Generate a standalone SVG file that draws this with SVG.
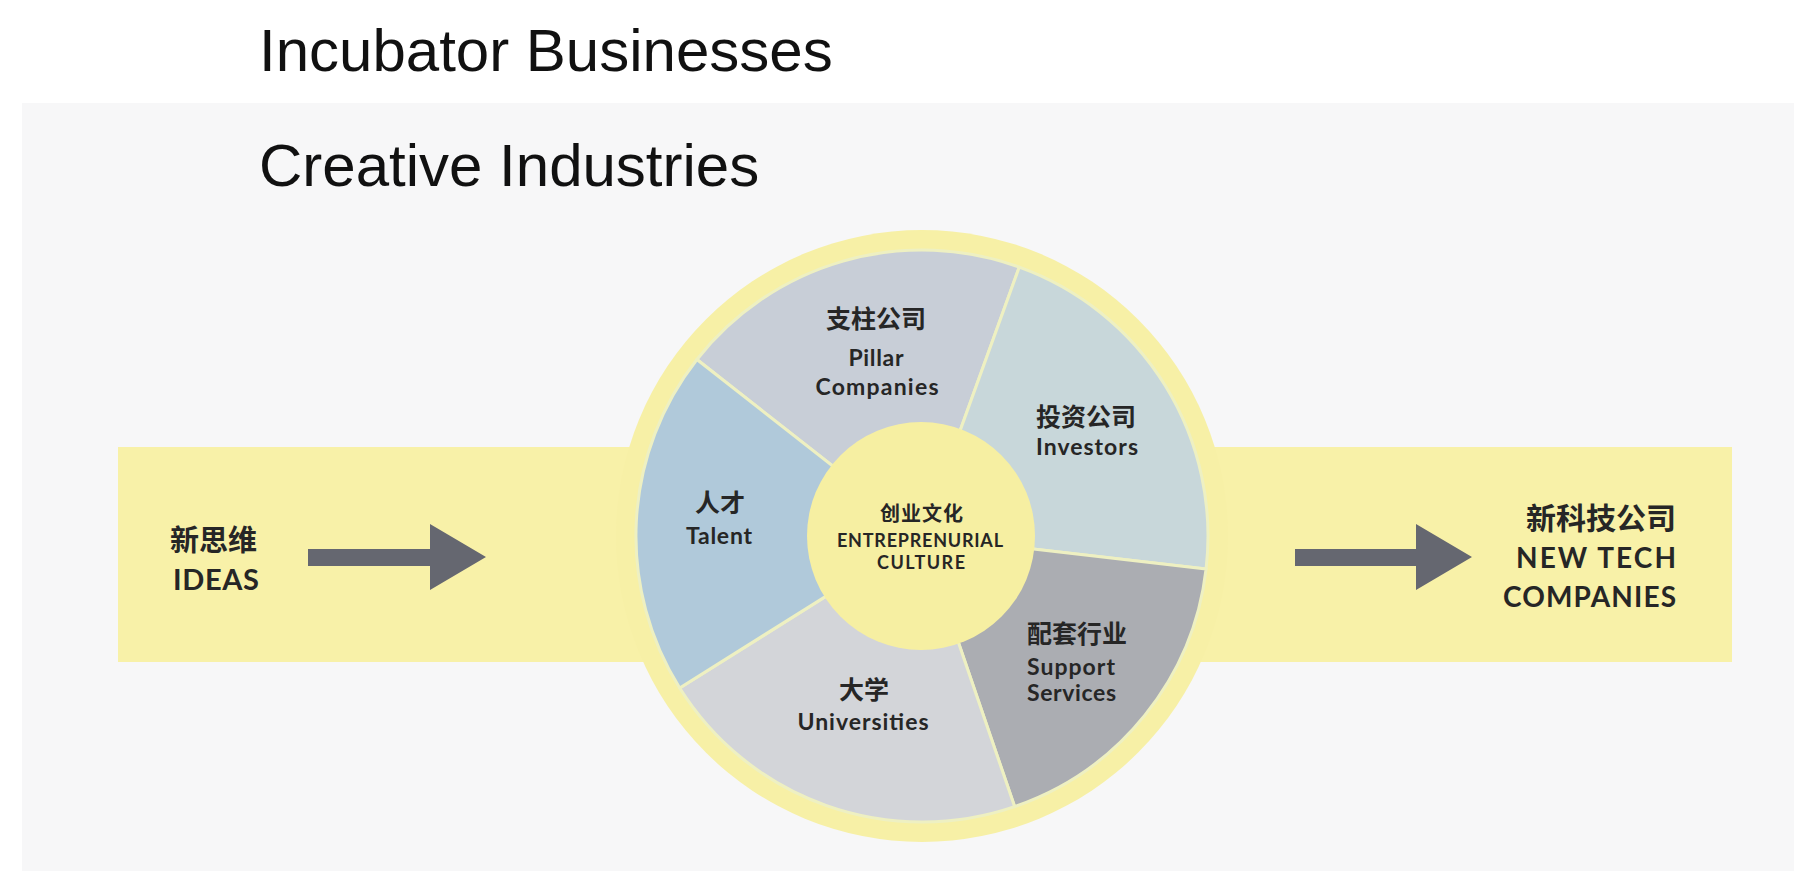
<svg xmlns="http://www.w3.org/2000/svg" width="1794" height="871" viewBox="0 0 1794 871">
  <defs>
    <style>
      .title { font-family: "Liberation Sans", Arial, sans-serif; font-size: 60px; fill: #111; }
      .cjk { font-family: "Noto Sans CJK SC", sans-serif; font-weight: 700; fill: #262626; }
      .lat { font-family: Lato, "Open Sans", sans-serif; font-weight: 700; fill: #262626; }
      .mid { text-anchor: middle; }
      .end { text-anchor: end; }
      .seg { stroke: #eef0c2; stroke-width: 3; stroke-linejoin: round; }
      .arrow { fill: #656770; }
    </style>
  </defs>

  <!-- page -->
  <rect x="0" y="0" width="1794" height="871" fill="#ffffff"/>
  <rect x="22" y="103" width="1772" height="768" fill="#f7f7f8"/>

  <text class="title" x="259" y="71">Incubator Businesses</text>
  <text class="title" x="259" y="186">Creative Industries</text>

  <!-- flow band -->
  <rect id="band" x="118" y="447" width="1614" height="215" fill="#f8f1a8"/>

  <!-- wheel -->
  <g id="wheel">
    <circle cx="922" cy="536" r="306" fill="#f7f0a6"/>
    <g id="pillar">
      <path class="seg" fill="#c8ced7" d="M922,536 L696.9,359.5 A286,286 0 0 1 1019.3,267.1 Z"/>
      <text class="cjk mid" x="876" y="327.5" font-size="25">支柱公司</text>
      <text class="lat mid" x="876" y="366" font-size="23" textLength="55">Pillar</text>
      <text class="lat mid" x="877" y="395" font-size="23" textLength="123">Companies</text>
    </g>
    <g id="investors">
      <path class="seg" fill="#c8d7da" d="M922,536 L1019.3,267.1 A286,286 0 0 1 1206.1,568.9 Z"/>
      <text class="cjk mid" x="1086" y="425.5" font-size="25">投资公司</text>
      <text class="lat mid" x="1087" y="455" font-size="23" textLength="102">Investors</text>
    </g>
    <g id="support">
      <path class="seg" fill="#abadb2" d="M922,536 L1206.1,568.9 A286,286 0 0 1 1014.6,806.6 Z"/>
      <text class="cjk" x="1027" y="642.5" font-size="25">配套行业</text>
      <text class="lat" x="1027" y="675" font-size="23" textLength="88">Support</text>
      <text class="lat" x="1027" y="701" font-size="23" textLength="89">Services</text>
    </g>
    <g id="universities">
      <path class="seg" fill="#d3d5d9" d="M922,536 L1014.6,806.6 A286,286 0 0 1 679.7,688 Z"/>
      <text class="cjk mid" x="864" y="699" font-size="25">大学</text>
      <text class="lat mid" x="863" y="730" font-size="23" textLength="131">Universities</text>
    </g>
    <g id="talent">
      <path class="seg" fill="#b0c9da" d="M922,536 L679.7,688 A286,286 0 0 1 696.9,359.5 Z"/>
      <text class="cjk mid" x="720" y="512" font-size="25">人才</text>
      <text class="lat mid" x="719" y="544" font-size="23" textLength="66">Talent</text>
    </g>
    <g id="culture">
      <circle cx="921" cy="536" r="114" fill="#f6efa2"/>
      <text class="cjk mid" x="922" y="521" font-size="20" letter-spacing="1">创业文化</text>
      <text class="lat mid" x="920" y="547" font-size="18" textLength="166">ENTREPRENURIAL</text>
      <text class="lat mid" x="921" y="569" font-size="18" textLength="88">CULTURE</text>
    </g>
  </g>

  <!-- inputs and outputs -->
  <g id="ideas">
    <text class="cjk" x="170" y="551" font-size="29">新思维</text>
    <text class="lat" x="173" y="590" font-size="29" textLength="86">IDEAS</text>
  </g>
  <g id="new-tech">
    <text class="cjk end" x="1676" y="529" font-size="30">新科技公司</text>
    <text class="lat end" x="1676" y="568" font-size="28" textLength="160">NEW TECH</text>
    <text class="lat end" x="1676" y="607" font-size="28" textLength="173">COMPANIES</text>
  </g>

  <!-- connectors -->
  <g id="connectors">
    <path class="arrow" d="M308,549 H430 V524 L486,557 L430,590 V566 H308 Z"/>
    <path class="arrow" d="M1295,549 H1416 V524 L1472,557 L1416,590 V566 H1295 Z"/>
  </g>
</svg>
